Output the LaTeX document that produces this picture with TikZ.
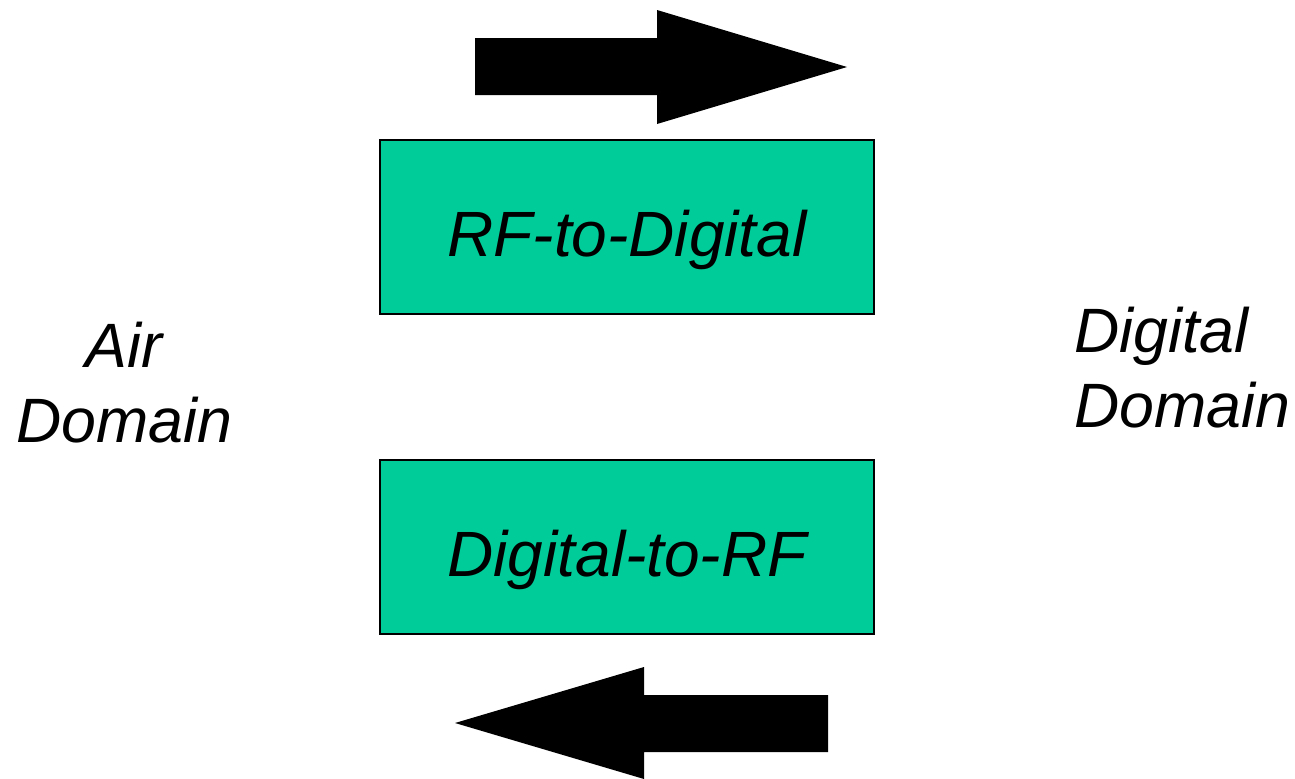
\documentclass[tikz,border=0pt]{standalone}
\usepackage{fontspec}
\setmainfont{Liberation Sans}
\definecolor{boxgreen}{HTML}{00CC99}
\begin{document}
\begin{tikzpicture}[x=0.75pt,y=-0.75pt,
  convbox/.style={draw=black,line width=1.2pt,fill=boxgreen,inner sep=0pt,
    minimum width=370.5pt,text height=87pt,text depth=43.5pt,
    font=\fontsize{48}{56}\selectfont\itshape},
  sidelabel/.style={inner sep=0pt,font=\fontsize{47}{56}\selectfont\itshape},
  blockarrow/.style={fill=black,draw=none}]
\useasboundingbox (0,0) rectangle (1295,778);
% top arrow (right)
\fill[blockarrow] (475,38) -- (657,38) -- (657,10) -- (847,67) -- (657,124) -- (657,95) -- (475,95) -- cycle;
% boxes
\node[convbox] (r2d) at (627,227) {RF-to-Digital};
\node[convbox] (d2r) at (627,547) {Digital-to-RF};
% bottom arrow (left)
\fill[blockarrow] (828,695) -- (644,695) -- (644,667) -- (455,723) -- (644,779) -- (644,752) -- (828,752) -- cycle;
% side labels (base = baseline of last line)
\node[sidelabel,align=center,anchor=base] (air) at (124,442) {Air\\Domain};
\node[sidelabel,align=left,anchor=base west] (dig) at (1074,427) {Digital\\Domain};
\end{tikzpicture}
\end{document}
